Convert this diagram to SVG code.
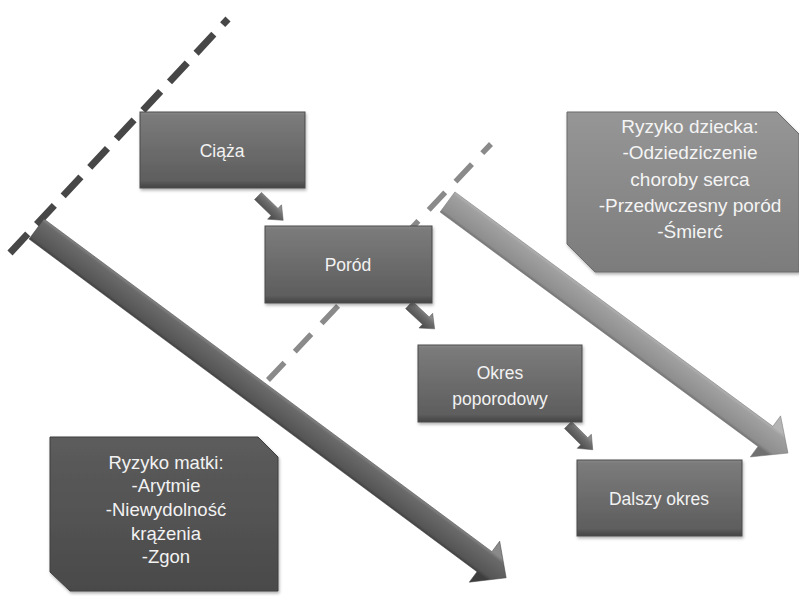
<svg xmlns="http://www.w3.org/2000/svg" width="799" height="596" viewBox="0 0 799 596">
  <defs>
    <style>
      .lbl { font-family: "Liberation Sans", Arial, sans-serif; font-size: 17.5px; fill: #f2f2f2; text-anchor: middle; }
      .lblL { font-family: "Liberation Sans", Arial, sans-serif; font-size: 18.5px; fill: #f2f2f2; text-anchor: middle; }
      .lblR { font-family: "Liberation Sans", Arial, sans-serif; font-size: 19px; fill: #f4f4f4; text-anchor: middle; }
      .box { fill: url(#gBox); stroke: #4a4a4a; stroke-width: 1; filter: url(#sh); }
      .dash1 { stroke: #474747; stroke-width: 7; stroke-dasharray: 26 13; fill: none; }
      .dash2 { stroke: #8a8a8a; stroke-width: 5.5; stroke-dasharray: 24 15; fill: none; }
      .small { fill: url(#gSmall); stroke: #555; stroke-width: 0.5; }
    </style>
    <filter id="sh" x="-10%" y="-10%" width="120%" height="130%">
      <feDropShadow dx="1" dy="2" stdDeviation="1.5" flood-color="#000" flood-opacity="0.3"/>
    </filter>
    <linearGradient id="gBox" x1="0" y1="0" x2="0" y2="1">
      <stop offset="0" stop-color="#8a8a8a"/>
      <stop offset="0.04" stop-color="#7b7b7b"/>
      <stop offset="0.9" stop-color="#5e5e5e"/>
      <stop offset="1" stop-color="#444"/>
    </linearGradient>
    <linearGradient id="gDarkBox" x1="0" y1="0" x2="0" y2="1">
      <stop offset="0" stop-color="#5c5c5c"/>
      <stop offset="1" stop-color="#4a4a4a"/>
    </linearGradient>
    <linearGradient id="gLightBox" x1="0" y1="0" x2="0" y2="1">
      <stop offset="0" stop-color="#969696"/>
      <stop offset="1" stop-color="#7c7c7c"/>
    </linearGradient>
    <linearGradient id="gBigDark" gradientUnits="userSpaceOnUse" x1="0" y1="-13" x2="0" y2="13">
      <stop offset="0" stop-color="#8a8a8a"/>
      <stop offset="0.15" stop-color="#6a6a6a"/>
      <stop offset="0.85" stop-color="#555"/>
      <stop offset="1" stop-color="#3e3e3e"/>
    </linearGradient>
    <linearGradient id="gBigLight" gradientUnits="userSpaceOnUse" x1="0" y1="-13" x2="0" y2="13">
      <stop offset="0" stop-color="#b5b5b5"/>
      <stop offset="0.15" stop-color="#a0a0a0"/>
      <stop offset="0.85" stop-color="#8e8e8e"/>
      <stop offset="1" stop-color="#707070"/>
    </linearGradient>
    <linearGradient id="gSmall" gradientUnits="userSpaceOnUse" x1="0" y1="-6" x2="0" y2="6">
      <stop offset="0" stop-color="#8a8a8a"/>
      <stop offset="0.3" stop-color="#6e6e6e"/>
      <stop offset="1" stop-color="#505050"/>
    </linearGradient>
    <path id="smallArrow" d="M0,-5 L23,-5 L23,-10 L35,0 L23,10 L23,5 L0,5 Z"/>
  </defs>

  <rect x="0" y="0" width="799" height="596" fill="#ffffff"/>

  <g id="connectors">
    <line class="dash1" x1="10" y1="253" x2="228" y2="19"/>
    <line class="dash2" x1="268" y1="380" x2="491" y2="144"/>
    <path transform="translate(36.5,229) rotate(36.6)" d="M0,-12.5 L558,-12.5 L558,-25.5 L585,0 L558,25.5 L558,12.5 L0,12.5 Z" fill="url(#gBigDark)" stroke="#444" stroke-width="0.5"/>
    <path transform="translate(447.5,202) rotate(36.4)" d="M0,-12.5 L395,-12.5 L395,-25.5 L423,0 L395,25.5 L395,12.5 L0,12.5 Z" fill="url(#gBigLight)" stroke="#777" stroke-width="0.5"/>
    <use href="#smallArrow" class="small" transform="translate(258,196) rotate(44)"/>
    <use href="#smallArrow" class="small" transform="translate(409,305) rotate(43)"/>
    <use href="#smallArrow" class="small" transform="translate(568,425) rotate(45)"/>
  </g>

  <g id="ciaza">
    <rect class="box" x="140" y="112" width="165" height="76"/>
    <text class="lbl" x="222" y="157">Ciąża</text>
  </g>

  <g id="porod">
    <rect class="box" x="265" y="226" width="167" height="77"/>
    <text class="lbl" x="348" y="271">Poród</text>
  </g>

  <g id="okres-poporodowy">
    <rect class="box" x="418" y="345" width="164" height="77"/>
    <text class="lbl" x="500" y="379">Okres</text>
    <text class="lbl" x="500" y="405">poporodowy</text>
  </g>

  <g id="dalszy-okres">
    <rect class="box" x="577" y="460" width="165" height="76"/>
    <text class="lbl" x="659" y="505">Dalszy okres</text>
  </g>

  <g id="ryzyko-matki">
    <polygon points="50,437 258,437 278,457 278,591 70,591 50,572" fill="url(#gDarkBox)" stroke="#3e3e3e" stroke-width="1" filter="url(#sh)"/>
    <text class="lblL" x="166" y="469">Ryzyko matki:</text>
    <text class="lblL" x="166" y="492">-Arytmie</text>
    <text class="lblL" x="166" y="516">-Niewydolność</text>
    <text class="lblL" x="166" y="540">krążenia</text>
    <text class="lblL" x="166" y="563">-Zgon</text>
  </g>

  <g id="ryzyko-dziecka">
    <polygon points="567,112 777,112 799,134 799,272 595,272 567,244" fill="url(#gLightBox)" stroke="#6a6a6a" stroke-width="1" filter="url(#sh)"/>
    <text class="lblR" x="690" y="133">Ryzyko dziecka:</text>
    <text class="lblR" x="690" y="159">-Odziedziczenie</text>
    <text class="lblR" x="690" y="186">choroby serca</text>
    <text class="lblR" x="690" y="212">-Przedwczesny poród</text>
    <text class="lblR" x="690" y="238">-Śmierć</text>
  </g>
</svg>
